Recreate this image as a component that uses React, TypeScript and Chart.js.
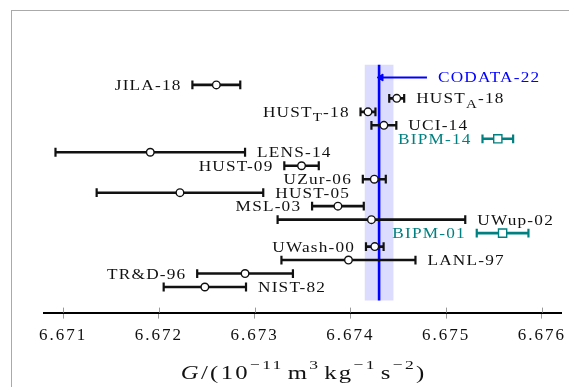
import React, { useEffect, useRef } from 'react';
import { Chart, registerables } from 'chart.js';

Chart.register(...registerables);

// ---- data ----
const experiments = ['NIST-82', 'TR&D-96', 'LANL-97', 'UWash-00', 'BIPM-01', 'UWup-02', 'MSL-03', 'HUST-05', 'UZur-06', 'HUST-09', 'LENS-14', 'BIPM-14', 'UCI-14', 'HUST_T-18', 'HUST_A-18', 'JILA-18'];
const gValues = [6.67248, 6.6729, 6.67398, 6.674255, 6.67559, 6.67422, 6.67387, 6.67222, 6.67425, 6.67349, 6.67191, 6.67554, 6.67435, 6.674184, 6.674484, 6.6726];
const gUncertainties = [0.00043, 0.0005, 0.0007, 0.000092, 0.00027, 0.00098, 0.00027, 0.00087, 0.00012, 0.00018, 0.00099, 0.00016, 0.00013, 0.000078, 0.000078, 0.00025];
const rowPositions = [1, 2, 3, 4, 5, 6, 7, 8, 9, 10, 11, 12, 13, 14, 15, 16];
const labelSides = ['right', 'left', 'right', 'left', 'left', 'right', 'left', 'right', 'left', 'left', 'right', 'left', 'right', 'left', 'right', 'left'];
const bipmGroup = [false, false, false, false, true, false, false, false, false, false, false, true, false, false, false, false];

const codataLabel = 'CODATA-22';
const codataValue = 6.6743;
const codataUncertainty = 0.00015;
const codataRowRange = [0, 17.5];
const codataArrowRow = 16.55;
const codataArrowFrom = 6.6748;
const codataArrowTo = 6.67432;

const xTicks = [6.671, 6.672, 6.673, 6.674, 6.675, 6.676];
const xMin = 6.6708;
const xMax = 6.6762;
const yMin = -0.9;
const yMax = 20;

// ---- styles ----
const BLACK = '#111111';
const TEAL = '#008080';
const BLUE = '#0000ff';
const BAND = '#dcdcff';
const SERIF = '"Liberation Serif", "DejaVu Serif", serif';
const LABEL_GAP = 12;
const STRETCH = 1.15;
const LABEL_SPACING = 1.2;
const TITLE_STRETCH = 1.3;
const TITLE_SPACING = 2.3;

function measurePiece(ctx: CanvasRenderingContext2D, t: string, font: string, sx: number, spacing: number) {
  (ctx as any).letterSpacing = '0px';
  ctx.font = font;
  return ctx.measureText(t).width * sx + Array.from(t).length * spacing;
}

function drawPiece(ctx: CanvasRenderingContext2D, t: string, font: string, x: number, y: number, sx: number, spacing: number) {
  ctx.save();
  ctx.font = font;
  (ctx as any).letterSpacing = spacing / sx + 'px';
  ctx.translate(x, y);
  ctx.scale(sx, 1);
  ctx.fillText(t, 0, 0);
  ctx.restore();
}

function drawRichText(ctx: CanvasRenderingContext2D, text: string, x: number, y: number, align: string, color: string) {
  const parts: { t: string; sub: boolean }[] = [];
  let buf = '';
  for (let i = 0; i < text.length; i++) {
    if (text[i] === '_' && i + 1 < text.length) {
      if (buf) parts.push({ t: buf, sub: false });
      buf = '';
      parts.push({ t: text[i + 1], sub: true });
      i++;
    } else buf += text[i];
  }
  if (buf) parts.push({ t: buf, sub: false });
  const mainFont = `15px ${SERIF}`;
  const subFont = `13px ${SERIF}`;
  let total = 0;
  const widths = parts.map((p) => {
    const w = measurePiece(ctx, p.t, p.sub ? subFont : mainFont, STRETCH, LABEL_SPACING);
    total += w;
    return w;
  });
  let cx = align === 'left' ? x : x - total + LABEL_SPACING;
  ctx.fillStyle = color;
  ctx.textAlign = 'left';
  ctx.textBaseline = 'alphabetic';
  parts.forEach((p, i) => {
    drawPiece(ctx, p.t, p.sub ? subFont : mainFont, cx, y + 5 + (p.sub ? 4.5 : 0), STRETCH, LABEL_SPACING);
    cx += widths[i];
  });
}

const annotationPlugin = {
  id: 'gAnnotations',
  beforeDraw(chart: any) {
    (chart.ctx as any).letterSpacing = '2px';
  },
  afterDatasetsDraw(chart: any) {
    const { ctx } = chart;
    const x = chart.scales.x;
    const y = chart.scales.y;
    ctx.save();
    experiments.forEach((name, i) => {
      const py = y.getPixelForValue(rowPositions[i]);
      const color = bipmGroup[i] ? TEAL : BLACK;
      if (labelSides[i] === 'left') {
        const px = x.getPixelForValue(gValues[i] - gUncertainties[i]);
        drawRichText(ctx, name, px - LABEL_GAP, py, 'right', color);
      } else {
        const px = x.getPixelForValue(gValues[i] + gUncertainties[i]);
        drawRichText(ctx, name, px + LABEL_GAP, py, 'left', color);
      }
    });
    const ay = y.getPixelForValue(codataArrowRow);
    const ax = x.getPixelForValue(codataArrowFrom);
    drawRichText(ctx, codataLabel, ax + 11, ay, 'left', BLUE);
    ctx.restore();
  },
  afterDraw(chart: any) {
    const { ctx, chartArea } = chart;
    const x = chart.scales.x;
    ctx.save();
    // upper half of tick marks
    ctx.strokeStyle = '#9a9a9a';
    ctx.lineWidth = 1;
    xTicks.forEach((t) => {
      const px = Math.round(x.getPixelForValue(t)) + 0.5;
      ctx.beginPath();
      ctx.moveTo(px, chartArea.bottom - 5);
      ctx.lineTo(px, chartArea.bottom);
      ctx.stroke();
    });
    // axis title with superscripts
    const main = 19;
    const sup = 13.5;
    const pieces: { t: string; f: string; dy: number; gap?: number }[] = [
      { t: 'G', f: `italic ${main}px ${SERIF}`, dy: 0 },
      { t: '/(10', f: `${main}px ${SERIF}`, dy: 0 },
      { t: '\u221211', f: `${sup}px ${SERIF}`, dy: -10 },
      { t: '', f: '', dy: 0, gap: 4 },
      { t: 'm', f: `${main}px ${SERIF}`, dy: 0 },
      { t: '3', f: `${sup}px ${SERIF}`, dy: -10 },
      { t: '', f: '', dy: 0, gap: 4 },
      { t: 'kg', f: `${main}px ${SERIF}`, dy: 0 },
      { t: '\u22121', f: `${sup}px ${SERIF}`, dy: -10 },
      { t: '', f: '', dy: 0, gap: 4 },
      { t: 's', f: `${main}px ${SERIF}`, dy: 0 },
      { t: '\u22122', f: `${sup}px ${SERIF}`, dy: -10 },
      { t: ')', f: `${main}px ${SERIF}`, dy: 0 },
    ];
    let total = 0;
    const ws = pieces.map((p) => {
      if (p.gap) { total += p.gap; return p.gap; }
      const w = measurePiece(ctx, p.t, p.f, TITLE_STRETCH, TITLE_SPACING);
      total += w;
      return w;
    });
    total -= TITLE_SPACING;
    const cxMid = (chartArea.left + chartArea.right) / 2;
    let cx = cxMid - total / 2;
    const baseY = 378.5;
    ctx.fillStyle = BLACK;
    ctx.textAlign = 'left';
    ctx.textBaseline = 'alphabetic';
    pieces.forEach((p, i) => {
      if (!p.gap) drawPiece(ctx, p.t, p.f, cx, baseY + p.dy, TITLE_STRETCH, TITLE_SPACING);
      cx += ws[i];
    });
    ctx.restore();
  },
};

export default function App() {
  const canvasRef = useRef<HTMLCanvasElement | null>(null);

  useEffect(() => {
    if (!canvasRef.current) return;
    const circleIdx = experiments.map((_, i) => i).filter((i) => !bipmGroup[i]);
    const squareIdx = experiments.map((_, i) => i).filter((i) => bipmGroup[i]);

    const datasets: any[] = [];
    datasets.push({
      label: 'measurements',
      data: circleIdx.map((i) => ({ x: gValues[i], y: rowPositions[i] })),
      pointStyle: 'circle',
      pointRadius: 3.8,
      pointBackgroundColor: '#ffffff',
      pointBorderColor: BLACK,
      pointBorderWidth: 1.4,
      showLine: false,
    });
    datasets.push({
      label: 'BIPM',
      data: squareIdx.map((i) => ({ x: gValues[i], y: rowPositions[i] })),
      pointStyle: 'rect',
      pointRadius: 5.8,
      pointBackgroundColor: '#ffffff',
      pointBorderColor: TEAL,
      pointBorderWidth: 1.4,
      showLine: false,
    });
    experiments.forEach((name, i) => {
      const c = bipmGroup[i] ? TEAL : BLACK;
      datasets.push({
        label: name + ' error',
        data: [
          { x: gValues[i] - gUncertainties[i], y: rowPositions[i] },
          { x: gValues[i] + gUncertainties[i], y: rowPositions[i] },
        ],
        showLine: true,
        borderColor: c,
        borderWidth: 2.6,
        borderCapStyle: 'butt',
        pointStyle: 'line',
        rotation: 90,
        pointRadius: 4.4,
        pointBorderWidth: 2.2,
        pointBorderColor: c,
        pointBackgroundColor: c,
      });
    });
    datasets.push({
      label: 'arrow',
      data: [
        { x: codataArrowFrom, y: codataArrowRow },
        { x: codataArrowTo, y: codataArrowRow },
      ],
      showLine: true,
      borderColor: BLUE,
      borderWidth: 2,
      pointStyle: 'triangle',
      rotation: -90,
      pointRadius: [0, 4],
      pointBackgroundColor: BLUE,
      pointBorderColor: BLUE,
      pointBorderWidth: 1,
    });
    datasets.push({
      label: codataLabel,
      data: [
        { x: codataValue, y: codataRowRange[0] },
        { x: codataValue, y: codataRowRange[1] },
      ],
      showLine: true,
      borderColor: BLUE,
      borderWidth: 2.6,
      borderCapStyle: 'butt',
      pointRadius: 0,
    });
    datasets.push({
      label: 'band',
      data: [
        { x: codataValue - codataUncertainty, y: codataRowRange[0] },
        { x: codataValue - codataUncertainty, y: codataRowRange[1] },
        { x: codataValue + codataUncertainty, y: codataRowRange[1] },
        { x: codataValue + codataUncertainty, y: codataRowRange[0] },
      ],
      showLine: true,
      fill: 'shape',
      backgroundColor: BAND,
      borderColor: 'rgba(0,0,0,0)',
      borderWidth: 0,
      pointRadius: 0,
    });

    const chart = new Chart(canvasRef.current, {
      type: 'scatter',
      data: { datasets },
      options: {
        animation: false,
        responsive: false,
        events: [],
        layout: { padding: { left: 44, right: 8, top: 31, bottom: 34 } },
        plugins: {
          legend: { display: false },
          tooltip: { enabled: false },
        },
        scales: {
          x: {
            type: 'linear',
            min: xMin,
            max: xMax,
            afterBuildTicks: (scale: any) => {
              scale.ticks = xTicks.map((v) => ({ value: v }));
            },
            ticks: {
              callback: (v: any) => Number(v).toFixed(3),
              font: { family: SERIF, size: 17 },
              color: BLACK,
              padding: 7,
              maxRotation: 0,
              autoSkip: false,
            },
            grid: {
              drawOnChartArea: false,
              drawTicks: true,
              tickLength: 6,
              color: '#9a9a9a',
              lineWidth: 1,
            },
            border: { display: true, color: '#000000', width: 2 },
          },
          y: {
            type: 'linear',
            display: false,
            min: yMin,
            max: yMax,
          },
        },
      } as any,
      plugins: [annotationPlugin],
    });
    return () => chart.destroy();
  }, []);

  return (
    <div style={{ position: 'absolute', left: 0, top: 0, width: 569, height: 387, overflow: 'hidden', background: '#fff' }}>
      <div style={{ position: 'absolute', left: 11, top: 10, width: 700, height: 500, borderTop: '1px solid #aaaaaa', borderLeft: '1px solid #aaaaaa' }} />
      <canvas ref={canvasRef} width={569} height={387} style={{ position: 'absolute', left: 0, top: 0, width: 569, height: 387 }} />
    </div>
  );
}
